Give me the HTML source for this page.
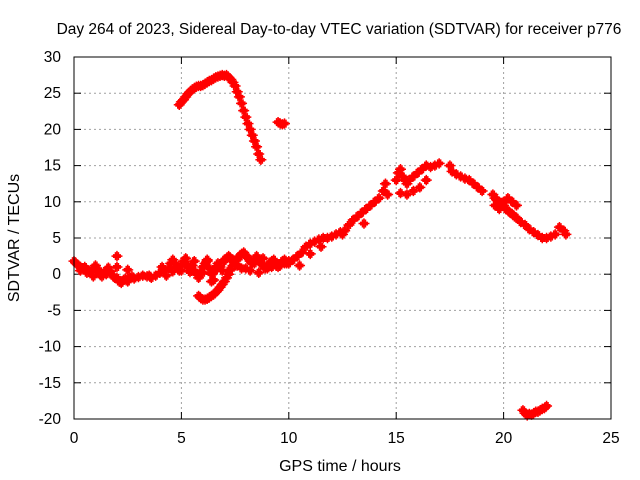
<!DOCTYPE html>
<html><head><meta charset="utf-8"><style>
body{margin:0;background:#fff;}
svg{display:block;font-family:"Liberation Sans",sans-serif;}
</style></head><body>
<svg id="c" width="640" height="480">
<text x="339" y="34" text-anchor="middle" font-size="15.5">Day 264 of 2023, Sidereal Day-to-day VTEC variation (SDTVAR) for receiver p776</text>
<text x="340" y="471" text-anchor="middle" font-size="16">GPS time / hours</text>
<text transform="translate(19,238) rotate(-90)" text-anchor="middle" font-size="16">SDTVAR / TECUs</text>
<g id="grid"></g><g id="ticks"></g><g id="marks"></g>
<rect x="74" y="57" width="537" height="362" fill="none" stroke="#000"/>
</svg>
<script>
const xTicks=[0,5,10,15,20,25];
const yTicks=[30,25,20,15,10,5,0,-5,-10,-15,-20];
const arcX=[4.9,5.0,5.1,5.2,5.3,5.4,5.5,5.6,5.7,5.8,5.9,6.0,6.1,6.2,6.3,6.4,6.5,6.6,6.7,6.8,6.9,7.0,7.1,7.2,7.3,7.4,7.5,7.6,7.7,7.8,7.9,8.0,8.1,8.2,8.3,8.4,8.5,8.6,8.7,9.5,9.6,9.7,9.8];
const arcY=[23.4,23.8,24.1,24.5,24.9,25.2,25.5,25.7,25.9,26.0,26.0,26.1,26.3,26.5,26.7,26.8,27.0,27.2,27.3,27.4,27.5,27.4,27.5,27.2,26.9,26.5,26.0,25.2,24.5,23.6,22.6,21.7,20.8,20.0,19.2,18.4,17.6,16.6,15.8,21.0,20.8,20.7,20.8];
const baseX=[0,0.1,0.2,0.3,0.4,0.5,0.6,0.7,0.8,0.9,1.0,1.1,1.2,1.3,1.4,1.5,1.6,1.7,1.8,1.9,2.0,2.0,2.0,2.1,2.2,2.3,2.4,2.5,2.6,2.7,2.8,3.0,3.2,3.4,3.6,3.8,4.0,4.1,4.2,4.3,4.4,4.5,4.6,4.7,4.8,4.9,5.0,5.1,5.2,5.3,5.4,5.5,5.6,5.7,5.8,5.9,6.0,6.1,6.2,6.3,6.4,6.5,6.6,6.7,6.8,6.9,7.0,7.1,7.2,7.3,7.4,7.5,7.6,7.7,7.8,7.9,8.0,8.1,8.2,8.3,8.4,8.5,8.6,8.7,8.8,8.9,9.0,9.1,9.2,9.3,9.4,9.5,9.6,9.7,9.8,9.9,10.0];
const baseY=[1.8,1.5,1.2,1.0,0.8,1.0,0.6,0.5,0.4,0.8,1.2,0.5,0.0,-0.3,0.2,0.5,0.9,0.4,-0.2,-0.5,2.5,1.0,-0.5,-1.0,-1.2,-0.8,-0.6,-1.0,-0.5,-0.3,-0.6,-0.4,-0.2,-0.3,-0.5,-0.2,0.2,1.0,0.5,-0.2,0.8,1.5,2.0,1.5,1.0,0.5,1.2,1.8,1.5,1.0,0.8,1.2,0.5,0.0,-0.5,0.2,1.0,1.5,2.0,0.8,0.0,-0.8,0.5,1.5,1.0,0.5,1.8,2.2,2.5,2.2,1.8,1.5,2.0,2.5,2.8,3.0,2.6,2.2,1.8,1.5,2.0,2.5,2.0,1.5,1.2,0.8,1.0,1.5,1.8,2.0,1.5,1.0,1.2,1.8,2.0,1.5,1.8];
const band2X=[0.3,0.6,0.9,1.2,1.5,2.5,3.5,4.6,5.0,5.4,6.2,6.6,7.0,7.4,7.8,8.2,8.6,9.0,9.4,9.8,5.2,5.6,6.0,6.4,7.2,7.6,8.0,8.4,8.8,9.2];
const band2Y=[0.5,0.2,-0.3,0.4,0.0,0.6,-0.2,0.4,0.5,0.3,1.8,1.0,2.0,2.0,0.8,0.5,0.2,0.8,1.2,1.5,2.2,1.8,0.2,-1.0,0.5,1.2,0.8,1.5,2.2,1.0];
const dipX=[5.8,5.9,6.0,6.1,6.2,6.3,6.4,6.5,6.6,6.7,6.8,6.9,7.0,7.1,7.2,7.3,7.4,7.5];
const dipY=[-3.0,-3.3,-3.5,-3.5,-3.4,-3.2,-3.0,-2.8,-2.5,-2.2,-1.8,-1.4,-1.0,-0.5,0.0,0.6,1.2,1.8];
const riseX=[10.0,10.2,10.4,10.6,10.8,11.0,11.2,11.4,11.6,11.8,12.0,12.2,12.4,12.6,12.8,13.0,13.2,13.4,13.6,13.8,14.0,14.2,14.4,14.5,14.6,15.0,15.1,15.2,15.3,15.4,15.5,15.6,15.8,16.0,16.2,16.4,16.6,16.8,17.0,15.2,15.5,15.8,16.1,16.4,10.5,11.0,11.5,12.5,13.5];
const riseY=[1.5,2.0,2.5,3.0,3.8,4.2,4.5,4.8,5.0,5.0,5.2,5.5,5.8,6.0,6.8,7.5,8.0,8.5,9.0,9.5,10.0,10.5,11.5,12.5,11.0,13.0,14.0,14.5,13.5,13.0,12.5,13.0,13.5,14.0,14.5,15.0,14.8,15.0,15.3,11.2,11.0,11.5,12.0,13.0,1.2,2.8,3.8,5.5,7.0];
const fallX=[17.5,17.6,17.8,18.0,18.2,18.4,18.6,18.8,19.0,19.5,19.6,19.7,19.8,19.9,20.0,20.1,20.2,20.3,20.4,20.5,20.6,20.8,21.0,21.2,21.4,21.6,21.8,22.0,22.2,22.4,22.6,22.8,22.9,19.6,19.8,20.0,20.2,20.4,20.6];
const fallY=[15.0,14.2,13.8,13.5,13.2,13.0,12.5,12.0,11.5,11.0,10.5,10.2,10.0,9.8,9.5,9.0,8.8,8.5,8.3,8.0,7.8,7.2,6.8,6.2,5.8,5.4,5.0,5.0,5.2,5.5,6.5,6.0,5.5,9.5,9.0,10.0,10.5,10.0,9.5];
const lowX=[20.9,21.0,21.1,21.2,21.3,21.4,21.5,21.6,21.7,21.8,21.9,22.0];
const lowY=[-18.8,-19.2,-19.5,-19.3,-19.4,-19.2,-19.0,-19.0,-18.8,-18.6,-18.5,-18.2];
const X=v=>74+v*537/25, Y=v=>57+(30-v)*362/50;
const ns="http://www.w3.org/2000/svg";
const g=document.getElementById('grid'),t=document.getElementById('ticks'),m=document.getElementById('marks');
function mk(tag,at,p){const e=document.createElementNS(ns,tag);for(const k in at)e.setAttribute(k,at[k]);p.appendChild(e);return e;}
xTicks.forEach(v=>{
 if(v>0&&v<25){const l=mk('line',{x1:X(v),x2:X(v),y1:57,y2:419,stroke:'#a0a0a0','stroke-dasharray':'2,3'},g);
 
 }
 mk('line',{x1:X(v),x2:X(v),y1:419,y2:412,stroke:'#000'},t);
 mk('line',{x1:X(v),x2:X(v),y1:57,y2:64,stroke:'#000'},t);
 const s=mk('text',{x:X(v),y:443,'text-anchor':'middle','font-size':15.5},t);s.textContent=v;
 
 
});
yTicks.forEach(v=>{
 if(v>-20&&v<30){const l=mk('line',{x1:74,x2:611,y1:Y(v),y2:Y(v),stroke:'#a0a0a0','stroke-dasharray':'2,3'},g);
 
 }
 mk('line',{x1:74,x2:81,y1:Y(v),y2:Y(v),stroke:'#000'},t);
 mk('line',{x1:611,x2:604,y1:Y(v),y2:Y(v),stroke:'#000'},t);
 const s=mk('text',{x:61,y:Y(v)+5,'text-anchor':'end','font-size':15.5},t);s.textContent=v;
 
 
});
[[arcX,arcY],[baseX,baseY],[band2X,band2Y],[dipX,dipY],[riseX,riseY],[fallX,fallY],[lowX,lowY]].forEach(([xs,ys])=>{
 xs.forEach((x,i)=>{
  const cx=X(x),cy=Y(ys[i]);
  [[-1.5,0],[1.5,0],[0,-1.2],[0,1.2],[0,0]].forEach(([dx,dy])=>{
   const p=mk('path',{d:`M${cx+dx-4},${cy+dy}h8M${cx+dx},${cy+dy-4}v8`,stroke:'#f00','stroke-width':1.5},m);
   
   
  });
 });
});
</script>
</body></html>
